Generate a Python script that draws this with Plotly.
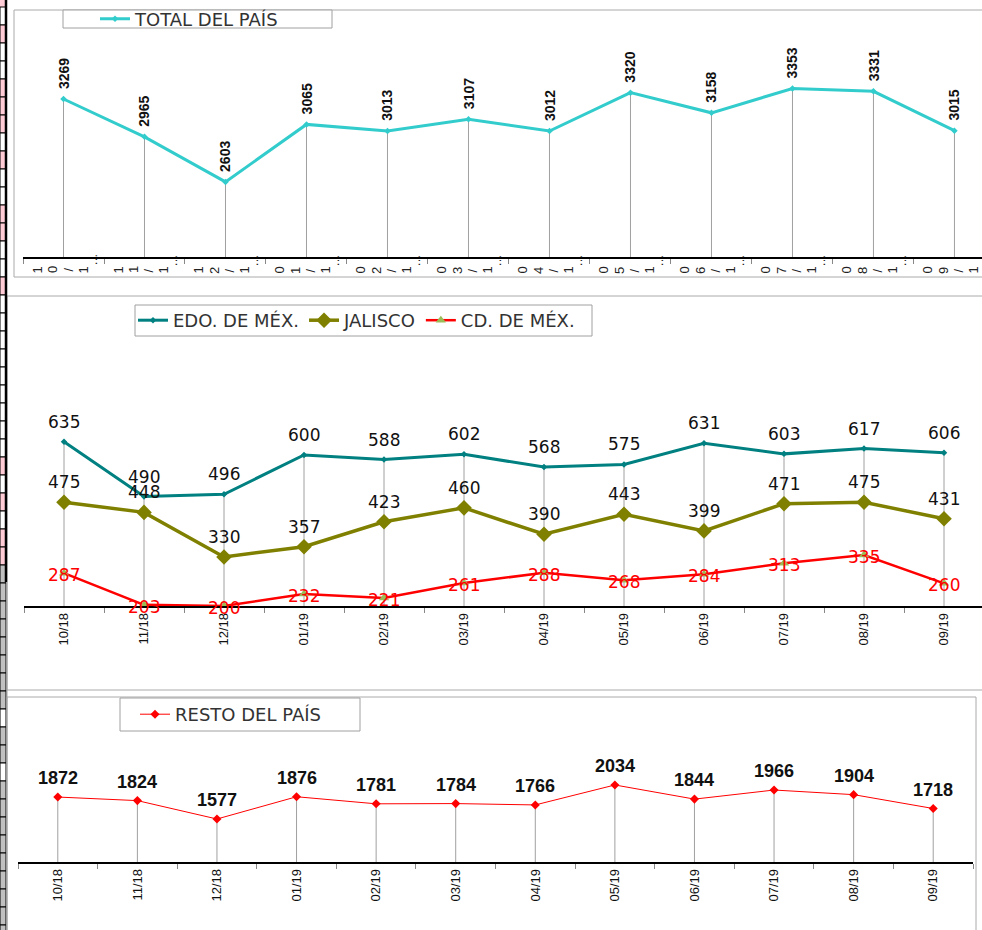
import plotly.graph_objects as go

# ---- data ----
meses = ['10/18', '11/18', '12/18', '01/19', '02/19', '03/19',
         '04/19', '05/19', '06/19', '07/19', '08/19', '09/19']
total_pais = [3269, 2965, 2603, 3065, 3013, 3107, 3012, 3320, 3158, 3353, 3331, 3015]
edo_mex = [635, 490, 496, 600, 588, 602, 568, 575, 631, 603, 617, 606]
jalisco = [475, 448, 330, 357, 423, 460, 390, 443, 399, 471, 475, 431]
cd_mex = [287, 203, 200, 232, 221, 261, 288, 268, 284, 313, 335, 260]
resto_pais = [1872, 1824, 1577, 1876, 1781, 1784, 1766, 2034, 1844, 1966, 1904, 1718]

W, H = 982, 930


def fx(px):
    return px / W


def fy(py):
    return 1 - py / H


fig = go.Figure()

# drop lines (Excel style) drawn first so the series sit on top
def drop_lines(x, y, base, xa, ya):
    return go.Scatter(
        x=x, y=y, mode='markers', marker=dict(size=1, opacity=0),
        error_y=dict(type='data', symmetric=False, array=[0] * len(y),
                     arrayminus=[v - base for v in y], color='#A0A0A0',
                     thickness=1, width=0),
        xaxis=xa, yaxis=ya, showlegend=False, hoverinfo='skip')


fig.add_trace(drop_lines(meses, total_pais, 2000, 'x', 'y'))
fig.add_trace(drop_lines(meses, edo_mex, 200, 'x2', 'y2'))
fig.add_trace(drop_lines(meses, resto_pais, 1000, 'x3', 'y3'))

# top panel
fig.add_trace(go.Scatter(
    x=meses, y=total_pais, name='TOTAL DEL PAÍS', mode='lines+markers',
    line=dict(color='#33CCCC', width=3),
    marker=dict(symbol='diamond', size=5, color='#33CCCC'),
    xaxis='x', yaxis='y', legend='legend'))

# middle panel
fig.add_trace(go.Scatter(
    x=meses, y=edo_mex, name='EDO. DE MÉX.', mode='lines+markers',
    line=dict(color='#008080', width=3),
    marker=dict(symbol='diamond', size=5, color='#008080'),
    xaxis='x2', yaxis='y2', legend='legend2'))
fig.add_trace(go.Scatter(
    x=meses, y=jalisco, name='JALISCO', mode='lines+markers',
    line=dict(color='#808000', width=3.5),
    marker=dict(symbol='diamond', size=12, color='#808000'),
    xaxis='x2', yaxis='y2', legend='legend2'))
fig.add_trace(go.Scatter(
    x=meses, y=cd_mex, name='CD. DE MÉX.', mode='lines+markers',
    line=dict(color='#FF0000', width=2.5),
    marker=dict(symbol='triangle-up', size=9, color='#9BBB59'),
    xaxis='x2', yaxis='y2', legend='legend2'))

# bottom panel
fig.add_trace(go.Scatter(
    x=meses, y=resto_pais, name='RESTO DEL PAÍS', mode='lines+markers',
    line=dict(color='#FF0000', width=1),
    marker=dict(symbol='diamond', size=7, color='#FF0000'),
    xaxis='x3', yaxis='y3', legend='legend3'))

annotations = []

# data labels
for i, v in enumerate(total_pais):
    annotations.append(dict(
        x=i, y=v, xref='x', yref='y', text=f'<b>{v}</b>', textangle=-90,
        showarrow=False, yanchor='bottom', yshift=8,
        font=dict(family='Liberation Sans', size=14, color='#111')))
for series in (edo_mex, jalisco):
    for i, v in enumerate(series):
        annotations.append(dict(
            x=i, y=v, xref='x2', yref='y2', text=str(v), showarrow=False,
            yanchor='middle', yshift=20,
            font=dict(family='DejaVu Sans', size=17, color='#111')))
for i, v in enumerate(cd_mex):
    annotations.append(dict(
        x=i, y=v, xref='x2', yref='y2', text=str(v), showarrow=False,
        yanchor='middle', yshift=-2,
        font=dict(family='DejaVu Sans', size=17, color='#FF0000')))
for i, v in enumerate(resto_pais):
    annotations.append(dict(
        x=i, y=v, xref='x3', yref='y3', text=f'<b>{v}</b>', showarrow=False,
        yanchor='middle', yshift=19,
        font=dict(family='Liberation Sans', size=18, color='#111')))

# top panel category labels: truncated, one rotated glyph per character
char_offsets = [-26, -10.5, 5, 20]
for i, lab in enumerate(meses):
    for off, ch in zip(char_offsets, lab[:4]):
        annotations.append(dict(
            x=i + off / 81, y=fy(270), xref='x', yref='paper', text=ch,
            textangle=-90, showarrow=False, yanchor='middle',
            font=dict(family='Liberation Sans', size=13, color='#222')))
    annotations.append(dict(
        x=i + 29 / 81, y=fy(260), xref='x', yref='paper', text='…',
        textangle=-90, showarrow=False, yanchor='middle',
        font=dict(family='Liberation Sans', size=12, color='#222')))

shapes = []

# spreadsheet row strip on the left edge
row_fills = ['W', 'P', 'W', 'W', 'P', 'P', 'P', 'W', 'P', 'W', 'W', 'P',
             'P', 'W', 'W', 'P', 'W', 'W', 'W', 'W', 'W', 'W', 'W', 'W',
             'W', 'P', 'W', 'P', 'W', 'P', 'P', 'G', 'G', 'G', 'G', 'G',
             'G', 'G', 'G', 'W', 'G', 'G', 'W', 'G', 'G', 'G', 'G', 'G',
             'G', 'G', 'G', 'G']
fill_map = {'W': '#FFFFFF', 'P': '#FFCCD5', 'G': '#C0C0C0'}
shapes.append(dict(type='rect', xref='paper', yref='paper', x0=0, x1=fx(6),
                   y0=fy(0), y1=fy(7), fillcolor='#FFCCD5', line=dict(width=0),
                   layer='below'))
for k, code in enumerate(row_fills):
    y0 = 7 + 18 * k
    shapes.append(dict(type='rect', xref='paper', yref='paper', x0=0, x1=fx(6),
                       y0=fy(y0), y1=fy(y0 + 18), fillcolor=fill_map[code],
                       line=dict(color='#000000', width=1), layer='below'))
shapes.append(dict(type='line', xref='paper', yref='paper', x0=fx(6), x1=fx(6),
                   y0=fy(0), y1=fy(582), line=dict(color='#000000', width=2.5)))
shapes.append(dict(type='line', xref='paper', yref='paper', x0=fx(7), x1=fx(7),
                   y0=fy(582), y1=fy(930), line=dict(color='#A0A0A0', width=1)))

# chart area frames
frame = dict(color='#AAAAAA', width=1)
shapes.append(dict(type='rect', xref='paper', yref='paper', x0=fx(14), x1=fx(995),
                   y0=fy(277), y1=fy(10), line=frame, layer='below'))
shapes.append(dict(type='rect', xref='paper', yref='paper', x0=fx(7), x1=fx(995),
                   y0=fy(690), y1=fy(296), line=frame, layer='below'))
shapes.append(dict(type='rect', xref='paper', yref='paper', x0=fx(7), x1=fx(976),
                   y0=fy(940), y1=fy(697), line=frame, layer='below'))

# legend frames (Excel sizes them independently of the text)
for (x0, y0, x1, y1) in [(63, 10, 332, 28), (135, 305, 592, 336), (120, 698, 360, 731)]:
    shapes.append(dict(type='rect', xref='paper', yref='paper', x0=fx(x0), x1=fx(x1),
                       y0=fy(y1), y1=fy(y0), fillcolor='#FFFFFF',
                       line=dict(color='#A0A0A0', width=1), layer='below'))


def xaxis(dom, rng, labels=True):
    return dict(domain=dom, range=rng, type='category', showgrid=False,
                showline=True, linecolor='#000000', linewidth=1.5,
                ticks='outside', tickson='boundaries', ticklen=5,
                tickcolor='#888888', showticklabels=labels, tickangle=-90,
                tickfont=dict(family='Liberation Sans', size=13, color='#111'),
                fixedrange=True)


def yaxis(dom, rng, anchor):
    return dict(domain=dom, range=rng, showgrid=False, showline=False,
                zeroline=False, showticklabels=False, ticks='',
                anchor=anchor, fixedrange=True)


legend_style = dict(bgcolor='rgba(0,0,0,0)', borderwidth=0,
                    orientation='h', itemwidth=30, xanchor='left', yanchor='middle',
                    font=dict(family='DejaVu Sans', size=18, color='#333'))

fig.update_layout(
    width=W, height=H,
    margin=dict(l=0, r=0, t=0, b=0),
    paper_bgcolor='white', plot_bgcolor='white',
    xaxis=dict(xaxis([fx(23), 1], [-0.5, 11.34], labels=False), anchor='y'),
    yaxis=yaxis([fy(257), fy(8)], [2000, 4000], 'x'),
    xaxis2=dict(xaxis([fx(24), 1], [-0.5, 11.475]), anchor='y2'),
    yaxis2=yaxis([fy(606), fy(304)], [200, 1000], 'x2'),
    xaxis3=dict(xaxis([fx(18), fx(973)], [-0.5, 11.5]), anchor='y3'),
    yaxis3=yaxis([fy(862), fy(713)], [1000, 3000], 'x3'),
    legend=dict(legend_style, x=fx(95), y=fy(19)),
    legend2=dict(legend_style, x=fx(133), y=fy(320.5)),
    legend3=dict(legend_style, x=fx(135), y=fy(714.5)),
    annotations=annotations,
    shapes=shapes,
    showlegend=True,
)

fig.write_html("out.html", config={'displayModeBar': False},
               post_script="document.body.style.margin='0';")
